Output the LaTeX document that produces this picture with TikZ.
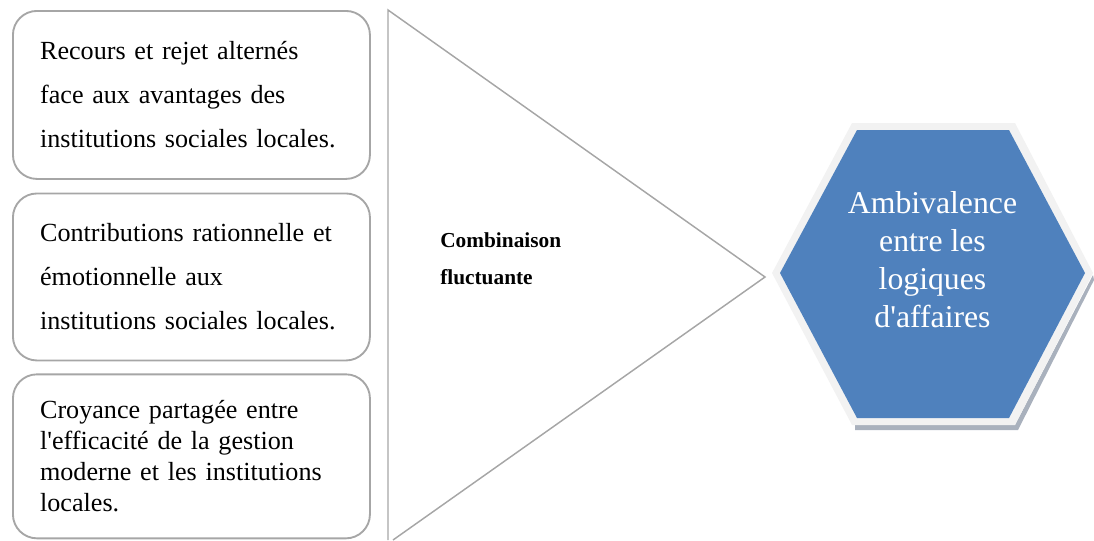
\documentclass[tikz,border=0pt]{standalone}
\usepackage{fontspec}
\setmainfont{Liberation Serif}
\usepackage{tikz}
\usetikzlibrary{
  positioning,
  calc
}
\definecolor{framegray}{HTML}{A6A6A6}
\definecolor{hexblue}{HTML}{4F81BD}
\definecolor{hexrim}{HTML}{F2F2F2}
\definecolor{hexshade}{HTML}{A9B1BD}

\begin{document}
\begin{tikzpicture}[
  x=0.75pt, y=-0.75pt,
  node distance=9.5pt and 5mm,
  itembox/.style={
    draw=framegray, line width=1.4pt, rounded corners=18pt,
    minimum width=267.75pt, text width=227pt, inner xsep=19.5pt,
    align=left, fill=white,
  },
  widetext/.style={font=\fontsize{19.6}{32.9}\selectfont},
  tighttext/.style={font=\fontsize{19.6}{23.3}\selectfont},
  wedge/.style={draw=framegray, line width=1.1pt},
  hexlabel/.style={
    text=white, align=center, inner sep=0pt,
    font=\fontsize{23.8}{28.5}\selectfont,
  },
]
\useasboundingbox (0,0) rectangle (1094,540);

\node[itembox, widetext, minimum height=126pt, anchor=north west] (recours) at (12,10)
  {Recours et rejet altern\'es\\face aux avantages des\\institutions sociales locales.\\[-6pt]};
\node[itembox, widetext, minimum height=125.25pt, below=of recours] (contrib)
  {Contributions rationnelle et\\\'emotionnelle aux\\institutions sociales locales.\\[-5pt]};
\node[itembox, tighttext, minimum height=123pt, below=9pt of contrib] (croyance)
  {Croyance partag\'ee entre\\l\textquotesingle efficacit\'e de la gestion\\moderne et les institutions\\locales.};

% wedge
\coordinate (wtop) at (388,10);
\coordinate (wtip) at (765,277);
\coordinate (wbot) at (393,540);
\coordinate (wcut) at (388,540);
\draw[wedge] (wcut) -- (wtop) -- (wtip) -- (wbot);
\node[font=\bfseries\fontsize{16}{27.7}\selectfont, align=left, inner sep=0pt, anchor=west] (combi)
  at (440,259) {Combinaison\\fluctuante};

% hexagon
\coordinate (hexc) at (932.5,274);
\fill[hexshade] (855,425) -- (1015,425) -- (1093,275) -- (1094,280) -- (1018,430) -- (855,430) -- cycle;
\fill[hexrim] (852,123) -- (1015,123) -- (1093,273) -- (1015,425) -- (852,425) -- (772,273) -- cycle;
\fill[hexblue] (857,130) -- (1009,130) -- (1085,273) -- (1009,418) -- (857,418) -- (780,273) -- cycle;
\node[hexlabel] (ambi) at ($(hexc)+(0,-14)$) {Ambivalence\\entre les\\logiques\\d\textquotesingle affaires};

\end{tikzpicture}
\end{document}
